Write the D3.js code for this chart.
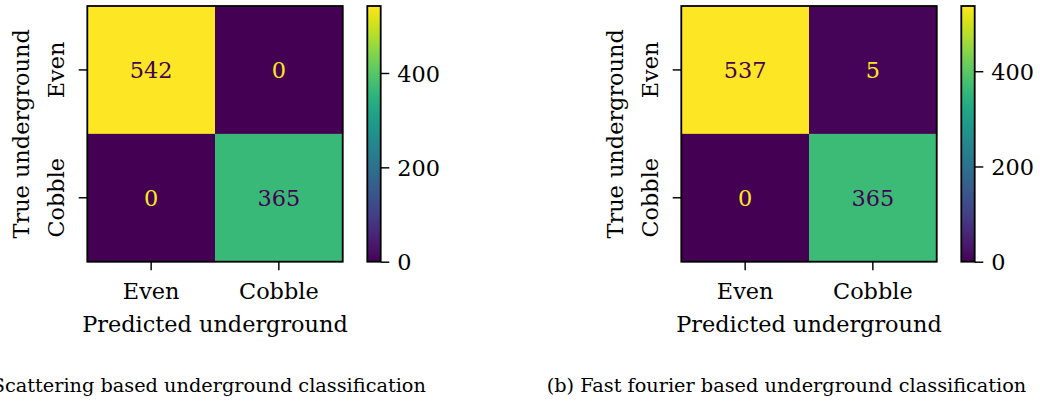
<!DOCTYPE html>
<html>
<head>
<meta charset="utf-8">
<script src="https://cdn.jsdelivr.net/npm/d3@7"></script>
<style>
  html, body { margin: 0; padding: 0; background: #fff; }
  svg { display: block; }
  text { font-family: "DejaVu Serif", serif; fill: #000; }
</style>
</head>
<body>
<svg id="chart" width="1040" height="401"></svg>
<script>
// ---- data ----
const categories = ["Even", "Cobble"];
const matrixA = [[542, 0], [0, 365]];
const matrixB = [[537, 5], [0, 365]];
const colorbarTicks = [0, 200, 400];
const captions = [
  "(a) Scattering based underground classification",
  "(b) Fast fourier based underground classification"
];
const xLabel = "Predicted underground";
const yLabel = "True underground";

// ---- layout ----
const W = 1040, H = 401;
const panelOffsets = [0, 594];
const heat = { x0: 87.3, x1: 342.7, y0: 6, y1: 261.7 };
const cb = { x0: 367.3, x1: 380.7 };
const fontMain = 22.4;
const fontCap = 19.3;
const tickLen = 8.6;
const lw = 1.8;

const svg = d3.select("#chart");
svg.append("rect").attr("width", W).attr("height", H).attr("fill", "#fff");

const defs = svg.append("defs");
const grad = defs.append("linearGradient")
  .attr("id", "viridisGrad").attr("x1", 0).attr("y1", 1).attr("x2", 0).attr("y2", 0);
d3.range(0, 1.0001, 0.02).forEach(t => {
  grad.append("stop").attr("offset", t).attr("stop-color", d3.interpolateViridis(t));
});

function drawPanel(matrix, offset, caption) {
  const g = svg.append("g").attr("transform", `translate(${offset},0)`);
  const flat = matrix.flat();
  const vmin = d3.min(flat), vmax = d3.max(flat);
  const color = d3.scaleSequential(d3.interpolateViridis).domain([vmin, vmax]);

  const x = d3.scaleBand().domain(categories).range([heat.x0, heat.x1]);
  const y = d3.scaleBand().domain(categories).range([heat.y0, heat.y1]);

  const cells = [];
  matrix.forEach((row, i) => row.forEach((v, j) => cells.push({ r: categories[i], c: categories[j], v })));

  g.selectAll("rect.cell").data(cells).join("rect")
    .attr("class", "cell")
    .attr("x", d => x(d.c)).attr("y", d => y(d.r))
    .attr("width", x.bandwidth() + 0.5).attr("height", y.bandwidth() + 0.5)
    .attr("fill", d => color(d.v));

  const thresh = (vmin + vmax) / 2;
  g.selectAll("text.val").data(cells).join("text")
    .attr("class", "val")
    .attr("x", d => x(d.c) + x.bandwidth() / 2)
    .attr("y", d => y(d.r) + y.bandwidth() / 2)
    .attr("dy", "0.36em")
    .attr("text-anchor", "middle")
    .style("font-size", fontMain + "px")
    .style("fill", d => d.v < thresh ? d3.interpolateViridis(1) : d3.interpolateViridis(0))
    .text(d => d.v);

  // frame
  g.append("rect")
    .attr("x", heat.x0).attr("y", heat.y0)
    .attr("width", heat.x1 - heat.x0).attr("height", heat.y1 - heat.y0)
    .attr("fill", "none").attr("stroke", "#000").attr("stroke-width", lw);

  // x axis
  const xAxis = g.append("g").attr("transform", `translate(0,${heat.y1})`)
    .call(d3.axisBottom(x).tickSize(tickLen).tickSizeOuter(0));
  xAxis.select(".domain").remove();
  xAxis.selectAll(".tick line").attr("stroke-width", lw * 0.8);
  xAxis.selectAll(".tick text")
    .attr("y", 299 - heat.y1).attr("dy", null)
    .style("font-size", fontMain + "px").style("font-family", "DejaVu Serif");

  // y axis
  const yAxis = g.append("g").attr("transform", `translate(${heat.x0},0)`)
    .call(d3.axisLeft(y).tickSize(tickLen).tickSizeOuter(0));
  yAxis.select(".domain").remove();
  yAxis.selectAll(".tick line").attr("stroke-width", lw * 0.8);
  yAxis.selectAll(".tick text")
    .attr("x", null).attr("dy", null)
    .attr("transform", `translate(${64 - heat.x0},0) rotate(-90)`)
    .attr("text-anchor", "middle")
    .style("font-size", fontMain + "px").style("font-family", "DejaVu Serif");

  // axis labels
  g.append("text")
    .attr("x", (heat.x0 + heat.x1) / 2).attr("y", 332)
    .attr("text-anchor", "middle")
    .style("font-size", fontMain + "px")
    .text(xLabel);
  g.append("text")
    .attr("transform", `translate(29,${(heat.y0 + heat.y1) / 2}) rotate(-90)`)
    .attr("text-anchor", "middle")
    .style("font-size", fontMain + "px")
    .text(yLabel);

  // colorbar
  const cbScale = d3.scaleLinear().domain([vmin, vmax]).range([heat.y1, heat.y0]);
  g.append("rect")
    .attr("x", cb.x0).attr("y", heat.y0)
    .attr("width", cb.x1 - cb.x0).attr("height", heat.y1 - heat.y0)
    .attr("fill", "url(#viridisGrad)");
  g.append("rect")
    .attr("x", cb.x0).attr("y", heat.y0)
    .attr("width", cb.x1 - cb.x0).attr("height", heat.y1 - heat.y0)
    .attr("fill", "none").attr("stroke", "#000").attr("stroke-width", lw);
  const cbAxis = g.append("g").attr("transform", `translate(${cb.x1},0)`)
    .call(d3.axisRight(cbScale).tickValues(colorbarTicks).tickSize(tickLen).tickPadding(8).tickFormat(d3.format("d")));
  cbAxis.select(".domain").remove();
  cbAxis.selectAll(".tick line").attr("stroke-width", lw * 0.8);
  cbAxis.selectAll(".tick text")
    .attr("dy", "0.36em")
    .style("font-size", fontMain + "px").style("font-family", "DejaVu Serif");

  // caption
  g.append("text")
    .attr("x", 192.5).attr("y", 392)
    .attr("text-anchor", "middle")
    .style("font-size", fontCap + "px")
    .text(caption);
}

drawPanel(matrixA, panelOffsets[0], captions[0]);
drawPanel(matrixB, panelOffsets[1], captions[1]);
</script>
</body>
</html>
